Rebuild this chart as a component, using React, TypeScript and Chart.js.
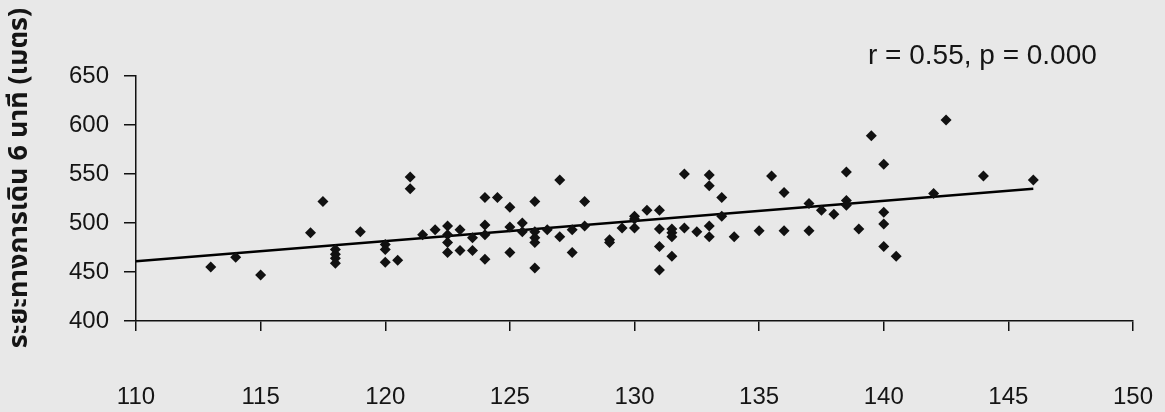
import React, { useEffect, useRef } from "react";
import { Chart, registerables } from "chart.js";

Chart.register(...registerables);

// Height (x) and 6-minute walk distance (y) for each subject
const heightValues: number[] = [
  113, 114, 115, 117, 117.5,
  118, 118, 118, 118,
  119,
  120, 120, 120,
  120.5,
  121, 121,
  121.5,
  122,
  122.5, 122.5, 122.5, 122.5,
  123, 123,
  123.5, 123.5,
  124, 124, 124, 124,
  124.5,
  125, 125, 125,
  125.5, 125.5,
  126, 126, 126, 126, 126,
  126.5,
  127, 127,
  127.5, 127.5,
  128, 128,
  129, 129,
  129.5,
  130, 130, 130,
  130.5,
  131, 131, 131, 131,
  131.5, 131.5, 131.5, 131.5,
  132, 132,
  132.5,
  133, 133, 133, 133,
  133.5, 133.5,
  134,
  135,
  135.5,
  136, 136,
  137, 137,
  137.5,
  138,
  138.5, 138.5, 138.5,
  139,
  139.5,
  140, 140, 140, 140,
  140.5,
  142,
  142.5,
  144,
  146,
];

const distanceValues: number[] = [
  455, 465, 447, 490, 522,
  473, 468, 464, 459,
  491,
  478, 473, 460,
  462,
  547, 535,
  488,
  493,
  497, 488, 480, 470,
  493, 472,
  485, 472,
  526, 498, 488, 463,
  526,
  516, 496, 470,
  500, 491,
  522, 491, 485, 480, 454,
  493,
  544, 486,
  493, 470,
  522, 497,
  483, 480,
  495,
  507, 504, 495,
  513,
  513, 494, 476, 452,
  494, 490, 486, 466,
  550, 495,
  491,
  549, 538, 497, 486,
  526, 507,
  486,
  492,
  548,
  531, 492,
  520, 492,
  513,
  509,
  552, 523, 518,
  494,
  589,
  560, 511, 499, 476,
  466,
  530,
  605,
  548,
  544,
];

// Regression line end points
const trendX: number[] = [110, 146];
const trendY: number[] = [461, 535];

// Axis ticks
const xTicks: number[] = [110, 115, 120, 125, 130, 135, 140, 145, 150];
const yTicks: number[] = [400, 450, 500, 550, 600, 650];

const yTitle = "ระยะทางการเดิน 6 นาที (เมตร)";
const statText = "r = 0.55, p = 0.000";

const NUM_FONT = "'Liberation Sans', Arial, 'DejaVu Sans', sans-serif";
const THAI_FONT = "'Noto Sans Thai', 'Noto Sans Thai UI', 'Noto Sans', Tahoma, 'DejaVu Sans', sans-serif";

export default function App() {
  const ref = useRef<HTMLCanvasElement | null>(null);

  useEffect(() => {
    const canvas = ref.current;
    if (!canvas) return;

    const decor = {
      id: "decor",
      beforeDraw(chart: any) {
        const ctx = chart.ctx;
        ctx.save();
        ctx.fillStyle = "#e8e8e8";
        ctx.fillRect(0, 0, chart.width, chart.height);
        ctx.restore();
      },
      afterDraw(chart: any) {
        const ctx = chart.ctx;
        ctx.save();
        ctx.fillStyle = "#151515";
        ctx.font = "28px " + NUM_FONT;
        ctx.textAlign = "left";
        ctx.textBaseline = "alphabetic";
        ctx.fillText(statText, 868, 64);

        ctx.translate(22, 178);
        ctx.rotate(-Math.PI / 2);
        ctx.font = "bold 27px " + THAI_FONT;
        ctx.textAlign = "center";
        ctx.textBaseline = "middle";
        ctx.fillText(yTitle, 0, 0);
        ctx.restore();
      },
    };

    const points = heightValues.map((x, i) => ({ x, y: distanceValues[i] }));
    const trend = trendX.map((x, i) => ({ x, y: trendY[i] }));

    const chart = new Chart(canvas, {
      type: "scatter",
      data: {
        datasets: [
          {
            label: "data",
            data: points,
            pointStyle: "rectRot",
            pointRadius: 5.5,
            backgroundColor: "#111",
            borderColor: "#111",
            borderWidth: 0,
          },
          {
            type: "line",
            label: "trend",
            data: trend,
            showLine: true,
            pointRadius: 0,
            borderColor: "#000",
            borderWidth: 2.5,
            fill: false,
          } as any,
        ],
      },
      options: {
        animation: false,
        responsive: false,
        devicePixelRatio: 1,
        layout: { padding: { top: 76, right: 32, left: 0, bottom: 0 } },
        plugins: {
          legend: { display: false },
          tooltip: { enabled: false },
        },
        scales: {
          x: {
            type: "linear",
            min: xTicks[0],
            max: xTicks[xTicks.length - 1],
            afterBuildTicks: (scale: any) => {
              scale.ticks = xTicks.map((v) => ({ value: v }));
            },
            afterFit: (scale: any) => {
              scale.height = 91;
              scale.paddingLeft = 0;
              scale.paddingRight = 0;
            },
            grid: {
              drawOnChartArea: false,
              drawTicks: true,
              tickLength: 10,
              color: "#111",
              lineWidth: 1.5,
            },
            border: { display: true, color: "#111", width: 1.5 },
            ticks: {
              color: "#151515",
              font: { family: NUM_FONT, size: 24 },
              padding: 52,
              maxRotation: 0,
              autoSkip: false,
            },
          },
          y: {
            type: "linear",
            min: yTicks[0],
            max: yTicks[yTicks.length - 1],
            afterBuildTicks: (scale: any) => {
              scale.ticks = yTicks.map((v) => ({ value: v }));
            },
            afterFit: (scale: any) => {
              scale.width = 136;
            },
            grid: {
              drawOnChartArea: false,
              drawTicks: true,
              tickLength: 12,
              color: "#111",
              lineWidth: 1.5,
            },
            border: { display: true, color: "#111", width: 1.5 },
            ticks: {
              color: "#151515",
              font: { family: NUM_FONT, size: 24 },
              padding: 15,
              autoSkip: false,
            },
          },
        },
      },
      plugins: [decor],
    } as any);

    return () => chart.destroy();
  }, []);

  return (
    <div style={{ position: "absolute", left: 0, top: 0, width: 1165, height: 412 }}>
      <canvas ref={ref} width={1165} height={412} style={{ width: 1165, height: 412 }} />
    </div>
  );
}
